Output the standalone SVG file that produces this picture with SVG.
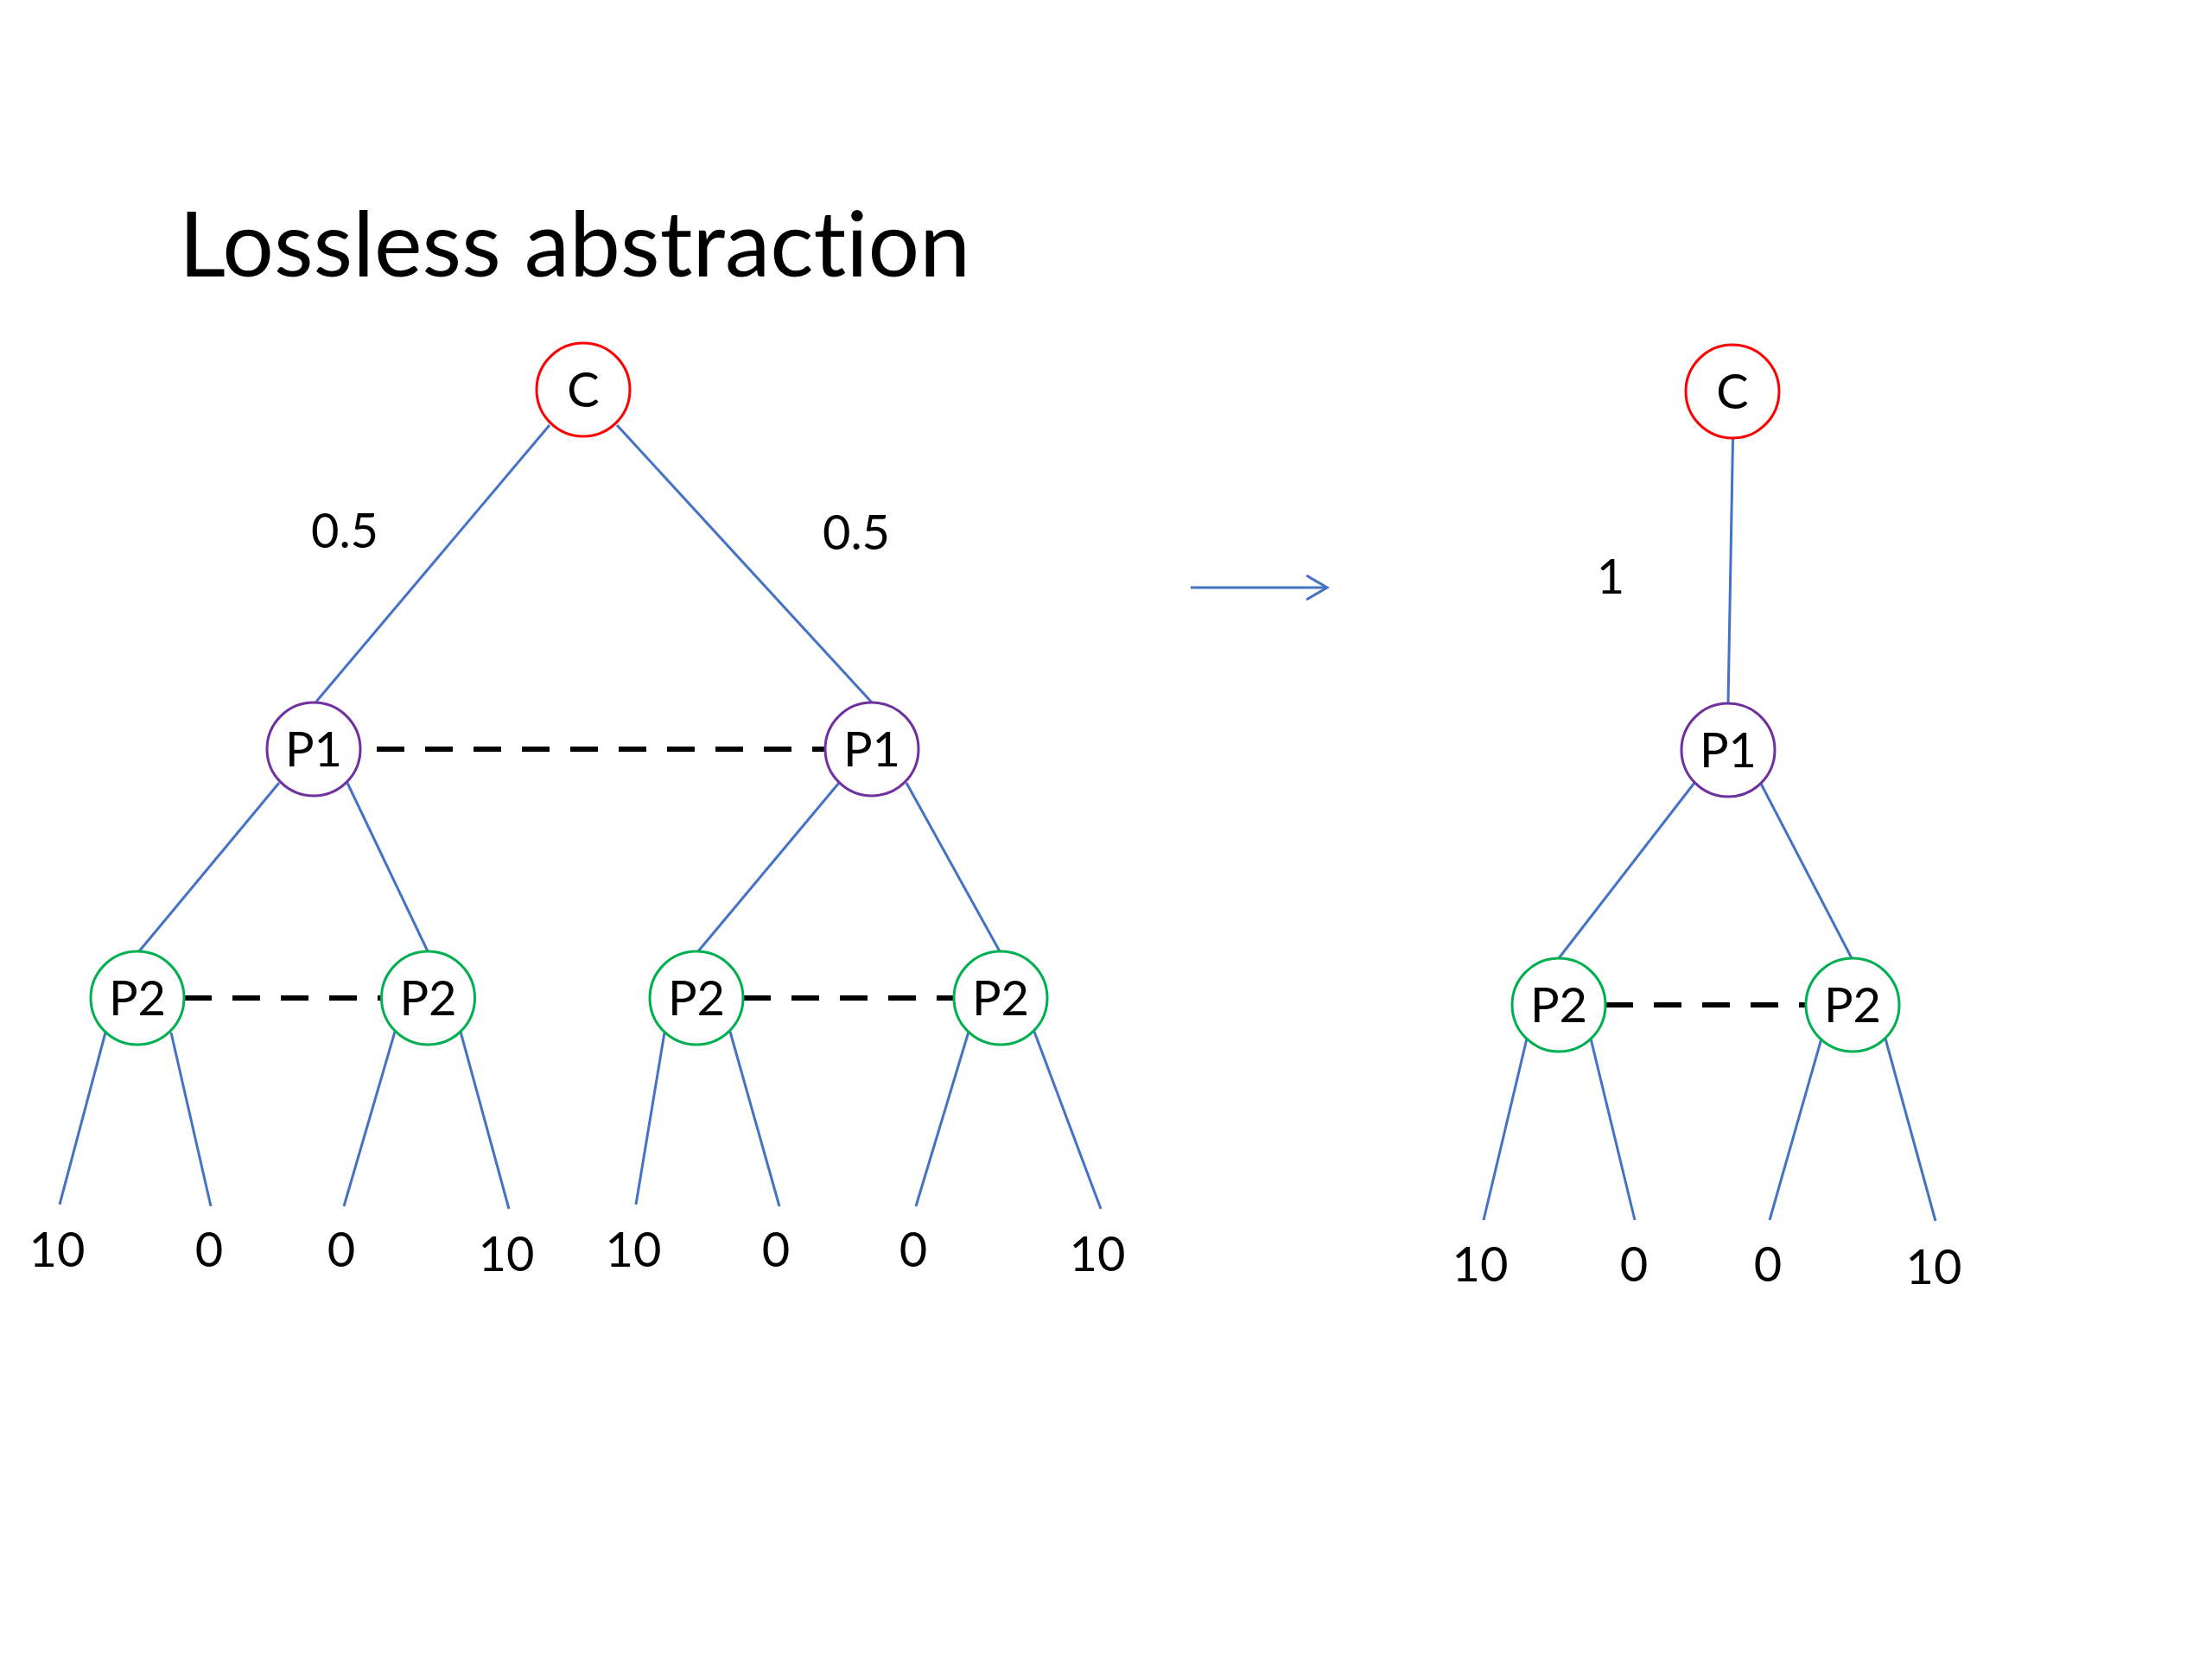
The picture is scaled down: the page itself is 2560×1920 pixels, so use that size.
<svg xmlns="http://www.w3.org/2000/svg" width="2560" height="1920" viewBox="0 0 2560 1920">
<style>
.t{font-family:Lato,"Open Sans","Liberation Sans",sans-serif;fill:#000;font-variant-ligatures:none;font-feature-settings:"liga" 0}
.lbl{font-size:56px;text-anchor:middle}
.e{stroke:#4472C4;stroke-width:3;fill:none}
.d{stroke:#000;stroke-width:6;stroke-dasharray:32 24;fill:none}
.c{fill:#fff;stroke-width:3}
.red{stroke:#FF0000}.pur{stroke:#7030A0}.grn{stroke:#00B050}
</style>
<rect width="2560" height="1920" fill="#fff"/>
<text id="title" class="t" x="207" y="320" font-size="104" textLength="916" lengthAdjust="spacingAndGlyphs">Lossless abstraction</text>
<g id="connectors">
<line class="e" x1="636" y1="492" x2="366" y2="812"/>
<line class="e" x1="714" y1="492" x2="1009" y2="813"/>
<line class="e" x1="323" y1="906" x2="161" y2="1101"/>
<line class="e" x1="402" y1="906" x2="495" y2="1101"/>
<line class="e" x1="971" y1="906" x2="808" y2="1101"/>
<line class="e" x1="1049" y1="906" x2="1157" y2="1101"/>
<line class="e" x1="122" y1="1195" x2="69" y2="1394"/>
<line class="e" x1="198" y1="1195" x2="244" y2="1396"/>
<line class="e" x1="457" y1="1194" x2="398" y2="1396"/>
<line class="e" x1="533" y1="1194" x2="589" y2="1399"/>
<line class="e" x1="769" y1="1195" x2="736" y2="1394"/>
<line class="e" x1="845" y1="1194" x2="902" y2="1396"/>
<line class="e" x1="1121" y1="1194" x2="1060" y2="1396"/>
<line class="e" x1="1197" y1="1194" x2="1274" y2="1399"/>
<line class="e" x1="2005.5" y1="508" x2="2000" y2="814"/>
<line class="e" x1="1961" y1="906" x2="1804" y2="1109"/>
<line class="e" x1="2038" y1="907" x2="2143" y2="1109"/>
<line class="e" x1="1767" y1="1202" x2="1717" y2="1412"/>
<line class="e" x1="1841" y1="1202" x2="1892" y2="1412"/>
<line class="e" x1="2108" y1="1202" x2="2048" y2="1412"/>
<line class="e" x1="2182" y1="1202" x2="2240" y2="1413"/>
<line class="d" x1="436" y1="867" x2="955" y2="867"/>
<line class="d" x1="213" y1="1155" x2="442" y2="1155"/>
<line class="d" x1="860" y1="1155" x2="1105" y2="1155"/>
<line class="d" x1="1858" y1="1163" x2="2090" y2="1163"/>
<g id="arrow">
<line class="e" x1="1378" y1="680" x2="1535" y2="680"/>
<polyline class="e" points="1512,666 1536,680 1512,694"/>
</g>
</g>
<g id="edge-labels" class="t lbl">
<text x="399" y="634">0.5</text>
<text x="991" y="636">0.5</text>
<text x="1864" y="687">1</text>
</g>
<g id="node-cL"><circle class="c red" cx="675" cy="451" r="54"/><text class="t lbl" x="675" y="471">C</text></g>
<g id="node-p1a"><circle class="c pur" cx="363" cy="867" r="54"/><text class="t lbl" x="363" y="887">P1</text></g>
<g id="node-p1b"><circle class="c pur" cx="1009" cy="867" r="54"/><text class="t lbl" x="1009" y="887">P1</text></g>
<g id="node-p2a"><circle class="c grn" cx="159" cy="1155" r="54"/><text class="t lbl" x="159" y="1175">P2</text></g>
<g id="node-p2b"><circle class="c grn" cx="495.5" cy="1155" r="54"/><text class="t lbl" x="495.5" y="1175">P2</text></g>
<g id="node-p2c"><circle class="c grn" cx="806" cy="1155" r="54"/><text class="t lbl" x="806" y="1175">P2</text></g>
<g id="node-p2d"><circle class="c grn" cx="1158" cy="1155" r="54"/><text class="t lbl" x="1158" y="1175">P2</text></g>
<g id="node-cR"><circle class="c red" cx="2005" cy="453" r="54"/><text class="t lbl" x="2005" y="473">C</text></g>
<g id="node-p1R"><circle class="c pur" cx="2000" cy="868" r="54"/><text class="t lbl" x="2000" y="888">P1</text></g>
<g id="node-p2e"><circle class="c grn" cx="1804" cy="1163" r="54"/><text class="t lbl" x="1804" y="1183">P2</text></g>
<g id="node-p2f"><circle class="c grn" cx="2144" cy="1163" r="54"/><text class="t lbl" x="2144" y="1183">P2</text></g>
<g id="leaves" class="t lbl">
<text x="66" y="1466">10</text>
<text x="242" y="1466">0</text>
<text x="395" y="1466">0</text>
<text x="586" y="1471">10</text>
<text x="733" y="1466">10</text>
<text x="898" y="1466">0</text>
<text x="1057" y="1466">0</text>
<text x="1270" y="1471">10</text>
<text x="1713" y="1483">10</text>
<text x="1891" y="1483">0</text>
<text x="2046" y="1483">0</text>
<text x="2238" y="1486">10</text>
</g>
</svg>
